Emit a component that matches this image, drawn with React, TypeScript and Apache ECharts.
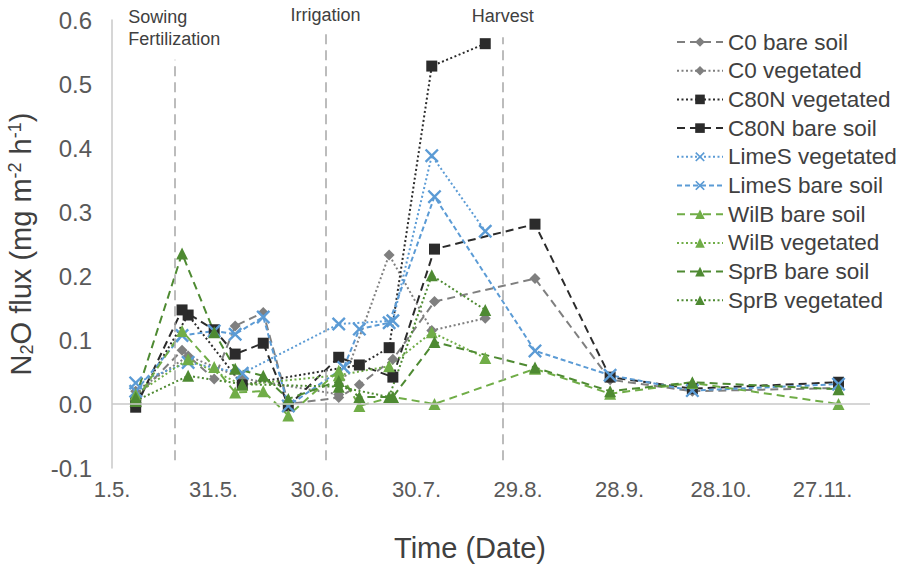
import { useEffect, useRef } from "react";
import * as echarts from "echarts";

// X axis: days counted from 1 May
const tickDays = [0, 30, 60, 90, 120, 150, 180, 210];
const tickLabels = ["1.5.", "31.5.", "30.6.", "30.7.", "29.8.", "28.9.", "28.10.", "27.11."];

// Sampling days
const bareDays = [7, 20.7, 30.2, 36.4, 44.7, 52.1, 67, 68.5, 73.1, 81.9, 83, 95.3, 125, 147.2, 171.5, 214.7];
const vegDays = [7, 22.5, 38.5, 67, 73.1, 81.9, 83, 94.5, 110.3];

// N2O flux values (mg m-2 h-1); null = not sampled
const c0Bare = [0.01, 0.084, 0.039, 0.122, 0.143, 0.0, 0.01, null, 0.03, null, 0.07, 0.16, 0.196, 0.038, 0.02, 0.025];
const c0Veg = [0.02, 0.075, 0.04, 0.015, null, 0.233, null, 0.115, 0.134];
const c80nVeg = [0.003, 0.139, 0.03, null, 0.061, 0.088, null, 0.528, 0.563];
const c80nBare = [-0.005, 0.147, 0.116, 0.078, 0.095, -0.003, 0.073, null, null, null, 0.042, 0.242, 0.281, 0.042, 0.024, 0.034];
const limeVeg = [0.033, 0.065, 0.048, 0.125, null, null, 0.13, 0.388, 0.27];
const limeBare = [0.02, 0.107, 0.114, 0.109, 0.136, -0.003, null, 0.057, 0.117, 0.127, null, 0.324, 0.083, 0.045, 0.021, 0.031];
const wilBare = [0.005, 0.114, 0.058, 0.018, 0.02, -0.018, 0.052, null, -0.003, null, 0.011, 0.0, 0.055, 0.016, 0.033, 0.0];
const wilVeg = [0.015, 0.07, 0.03, 0.045, null, 0.059, null, 0.112, 0.072];
const sprBare = [0.01, 0.235, 0.112, 0.055, 0.044, 0.008, 0.036, null, 0.011, null, 0.011, 0.097, 0.057, 0.02, 0.034, 0.023];
const sprVeg = [0.005, 0.044, 0.031, 0.027, null, 0.011, null, 0.201, 0.147];

// Management events
const eventNames = ["Sowing\nFertilization", "Irrigation", "Harvest"];
const eventDays = [18.4, 63.1, 115.5];
const eventTops = [0.538, 0.582, 0.573];
const eventBottom = -0.088;

const X_PATH = "path://M0,1.2L1.2,0L5,3.8L8.8,0L10,1.2L6.2,5L10,8.8L8.8,10L5,6.2L1.2,10L0,8.8L3.8,5Z";
const FONT = "'Liberation Sans', Arial, sans-serif";

const GREY = "#7f7f7f";
const BLACK = "#2b2b2b";
const BLUE = "#5b9bd5";
const LGREEN = "#70ad47";
const DGREEN = "#4e8a32";

const DASH = [8, 5];
const DOT = [2, 2.5];

function mk(name: string, days: number[], vals: (number | null)[], color: string, symbol: string, size: number, dash: number[]) {
  const data = days
    .map((d, i) => [d, vals[i]])
    .filter((p) => p[1] !== null && p[1] !== undefined);
  return {
    name,
    type: "line",
    data,
    symbol,
    symbolSize: size,
    showAllSymbol: true,
    lineStyle: { color, width: 2, type: dash },
    itemStyle: { color, borderWidth: 0 },
    z: 3,
  };
}

export default function App() {
  const ref = useRef<HTMLDivElement>(null);
  useEffect(() => {
    if (!ref.current) return;
    const chart = echarts.init(ref.current, undefined, { renderer: "svg" });
    const series: any[] = [
      mk("C0 bare soil", bareDays, c0Bare, GREY, "diamond", 11, DASH),
      mk("C0 vegetated", vegDays, c0Veg, GREY, "diamond", 11, DOT),
      mk("C80N vegetated", vegDays, c80nVeg, BLACK, "rect", 11, DOT),
      mk("C80N bare soil", bareDays, c80nBare, BLACK, "rect", 11, DASH),
      mk("LimeS vegetated", vegDays, limeVeg, BLUE, X_PATH, 14, DOT),
      mk("LimeS bare soil", bareDays, limeBare, BLUE, X_PATH, 14, [5, 3]),
      mk("WilB bare soil", bareDays, wilBare, LGREEN, "triangle", 12, DASH),
      mk("WilB vegetated", vegDays, wilVeg, LGREEN, "triangle", 12, DOT),
      mk("SprB bare soil", bareDays, sprBare, DGREEN, "triangle", 12, DASH),
      mk("SprB vegetated", vegDays, sprVeg, DGREEN, "triangle", 12, DOT),
    ];
    series.push({
      name: "events",
      type: "line",
      data: [],
      silent: true,
      z: 1,
      markLine: {
        silent: true,
        symbol: "none",
        animation: false,
        lineStyle: { color: "#a6a6a6", width: 1.5, type: [10, 6] },
        data: [
          [
            { yAxis: 0, xAxis: 0, lineStyle: { color: "#c8c8c8", type: "solid", width: 1.5 }, label: { show: false } },
            { yAxis: 0, xAxis: 224 },
          ],
          ...eventDays.map((d, i) => [
            {
              coord: [d, eventBottom],
              label: {
                show: true,
                position: "end",
                distance: i === 1 ? 6 : 10,
                formatter: i === 0 ? "{a|Sowing}\n{a|Fertilization}" : eventNames[i],
                color: "#404040",
                fontSize: 18,
                fontFamily: FONT,
                lineHeight: 22,
                rich: {
                  a: { width: 98, align: "left", fontSize: 18, color: "#404040", fontFamily: FONT, lineHeight: 22, padding: [0, 0, 0, 6] },
                },
              },
            },
            { coord: [d, eventTops[i]] },
          ]),
        ],
      },
    });

    chart.setOption({
      animation: false,
      textStyle: { fontFamily: FONT },
      grid: { left: 112, right: 34, top: 20, bottom: 99, containLabel: false, outerBoundsMode: "none" },
      legend: {
        orient: "vertical",
        left: 671,
        top: 25,
        data: series.slice(0, 10).map((s) => s.name),
        itemWidth: 46,
        itemHeight: 12,
        itemGap: 4.7,
        textStyle: { fontSize: 22.5, color: "#404040", fontFamily: FONT, lineHeight: 24 },
      },
      xAxis: {
        type: "value",
        min: 0,
        max: 224,
        interval: 30,
        name: "Time (Date)",
        nameLocation: "middle",
        nameGap: 65,
        nameTextStyle: { fontSize: 29, color: "#404040", fontFamily: FONT, padding: [0, 42, 0, 0] },
        axisLine: { show: false, onZero: false },
        axisTick: { show: false },
        splitLine: { show: false },
        axisLabel: {
          fontSize: 22,
          color: "#595959",
          margin: 10,
          fontFamily: FONT,
          formatter: (v: number) => {
            const i = tickDays.indexOf(v);
            return i >= 0 ? tickLabels[i] : "";
          },
        },
      },
      yAxis: {
        type: "value",
        min: -0.1,
        max: 0.6,
        interval: 0.1,
        name: "N{sub|2}O flux (mg m{sup|-2} h{sup|-1})",
        nameLocation: "middle",
        nameGap: 76,
        nameTextStyle: {
          fontSize: 29,
          color: "#404040",
          fontFamily: FONT,
          rich: {
            sub: { fontSize: 18, verticalAlign: "bottom", color: "#404040", fontFamily: FONT, padding: [12, 0, 0, 0] },
            sup: { fontSize: 18, verticalAlign: "top", color: "#404040", fontFamily: FONT, padding: [0, 0, 10, 0] },
          },
        },
        axisLine: { show: true, onZero: false, lineStyle: { color: "#c8c8c8", width: 1.5 } },
        axisTick: { show: false },
        splitLine: { show: false },
        axisLabel: {
          fontSize: 24,
          color: "#595959",
          margin: 20,
          fontFamily: FONT,
          formatter: (v: number) => v.toFixed(1),
        },
      },
      series,
    });
    return () => chart.dispose();
  }, []);
  return <div ref={ref} style={{ position: "absolute", left: 0, top: 0, width: 904, height: 567 }} />;
}
